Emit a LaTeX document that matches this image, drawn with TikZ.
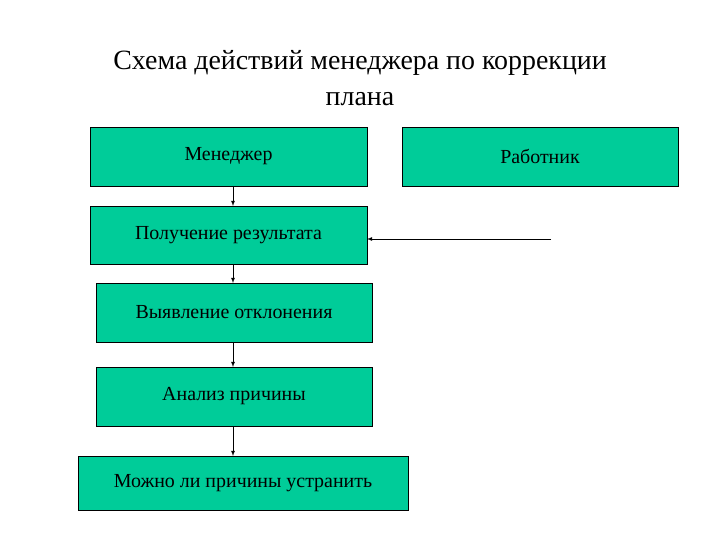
\documentclass[tikz,border=0pt]{standalone}
\usepackage{fontspec}
\setmainfont{Liberation Serif}
\definecolor{boxg}{RGB}{0,204,153}
\begin{document}
\begin{tikzpicture}[x=1bp,y=-1bp,
  bx/.style={draw=black,fill=boxg,line width=0.8pt,font=\fontsize{20}{22}\selectfont,inner sep=0pt},
  arr/.style={-latex,line width=0.8pt}]
\useasboundingbox (0,0) rectangle (720,540);
\node[font=\fontsize{28}{36}\selectfont,align=center] (t) at (360,78) {Схема действий менеджера по коррекции\\плана};
\node[bx,minimum width=277bp,minimum height=59bp] (m) at (228.5,156.5) {Менеджер};
\node[bx,minimum width=276bp,minimum height=59bp] (r) at (540,156.5) {Работник};
\node[bx,minimum width=277bp,minimum height=58bp] (p) at (228.5,235) {Получение результата};
\node[bx,minimum width=276bp,minimum height=59bp] (v) at (234,312.5) {Выявление отклонения};
\node[bx,minimum width=276bp,minimum height=59bp] (a) at (234,396.5) {Анализ причины};
\node[bx,minimum width=330bp,minimum height=54bp] (n) at (243,483) {Можно ли причины устранить};
\coordinate (s) at (551,239);
\draw[arr] (233,186) -- (233,206);
\draw[arr] (233,264) -- (233,283);
\draw[arr] (233,342) -- (233,367);
\draw[arr] (233,426) -- (233,456);
\draw[arr] (s) -- (367,239);
\end{tikzpicture}
\end{document}
